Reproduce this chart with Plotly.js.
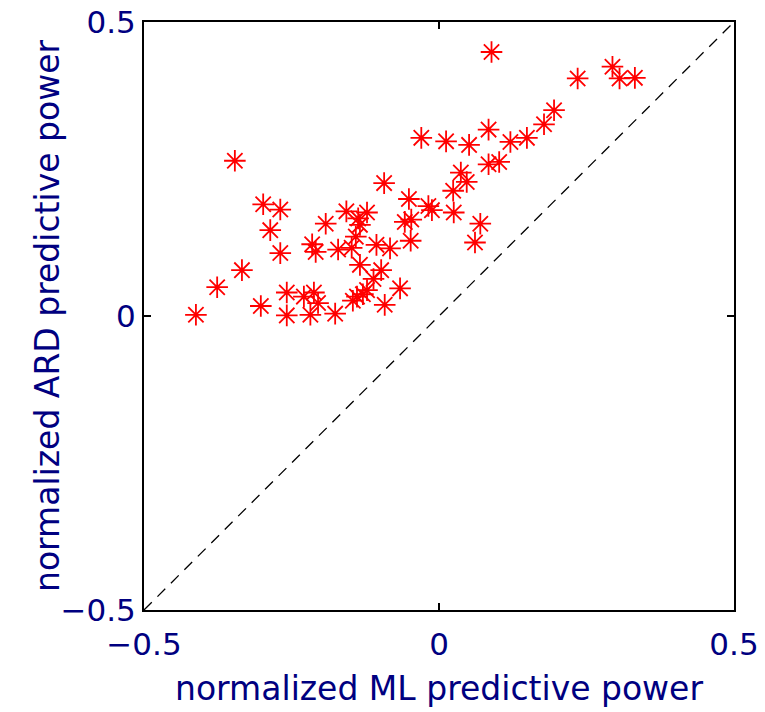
<!DOCTYPE html>
<html>
<head>
<meta charset="utf-8">
<script src="https://cdn.plot.ly/plotly-3.0.1.min.js"></script>
<style>html,body{margin:0;padding:0;background:#fff;}</style>
</head>
<body>
<div id="chart" style="width:765px;height:712px;"></div>
<script>
// normalized ML predictive power (x) for each dataset
var mlPower = [-0.346,-0.298,-0.269,-0.286,-0.269,-0.334,-0.376,-0.412,-0.302,-0.258,
  -0.258,-0.229,-0.212,-0.205,-0.218,-0.176,-0.215,-0.209,-0.192,-0.171,
  -0.157,-0.137,-0.122,-0.134,-0.141,-0.148,-0.134,-0.106,-0.083,-0.098,
  -0.111,-0.122,-0.139,-0.146,-0.129,-0.092,-0.066,-0.048,-0.058,-0.047,
  -0.051,-0.018,-0.012,-0.093,-0.030,0.012,0.051,0.084,0.089,0.121,
  0.149,0.178,0.195,0.235,0.294,0.306,0.332,0.084,0.102,0.037,
  0.047,0.024,0.025,0.070,0.061];
// normalized ARD predictive power (y) for each dataset
var ardPower = [0.264,0.190,0.181,0.146,0.107,0.078,0.049,0.002,0.017,0.040,
  0.001,0.033,0.040,0.022,0.002,0.004,0.122,0.109,0.157,0.113,
  0.178,0.166,0.176,0.155,0.135,0.116,0.087,0.121,0.115,0.078,
  0.063,0.044,0.033,0.026,0.037,0.019,0.047,0.128,0.160,0.164,
  0.199,0.187,0.180,0.226,0.303,0.297,0.291,0.317,0.449,0.296,
  0.303,0.326,0.350,0.404,0.424,0.404,0.405,0.258,0.262,0.244,
  0.228,0.213,0.176,0.157,0.125];
// identity line end points
var diagLine = [-0.5, 0.5];
var tickValues = [-0.5, 0, 0.5];
var xLabel = "normalized ML predictive power";
var yLabel = "normalized ARD predictive power";

var textColor = "#000080";
var fontFam = "DejaVu Sans, sans-serif";

var traces = [
  {
    x: diagLine, y: diagLine, mode: "lines", type: "scatter",
    line: {color: "black", width: 1.3, dash: "11px,8px"},
    hoverinfo: "skip", showlegend: false
  },
  {
    x: mlPower, y: ardPower, mode: "markers", type: "scatter",
    marker: {symbol: "asterisk-open", size: 18, color: "red", line: {color: "red", width: 1.8}},
    showlegend: false
  }
];

function axis() {
  return {
    range: [-0.5, 0.5],
    tickvals: tickValues,
    ticks: "inside",
    ticklen: 7,
    tickwidth: 1.3,
    tickcolor: "black",
    showline: true,
    linecolor: "black",
    linewidth: 2,
    mirror: "allticks",
    showgrid: false,
    zeroline: false,
    tickfont: {family: fontFam, size: 31, color: textColor},
    automargin: false
  };
}

var xa = axis();
xa.ticklabelstandoff = 6;
xa.title = {text: xLabel, font: {family: fontFam, size: 33, color: textColor}, standoff: 16};
var ya = axis();

var layout = {
  width: 765, height: 712,
  margin: {l: 144, r: 31, t: 22, b: 102},
  paper_bgcolor: "white", plot_bgcolor: "white",
  xaxis: xa, yaxis: ya,
  showlegend: false,
  annotations: [{
    text: yLabel, xref: "paper", yref: "paper", x: 0, y: 0.5,
    xanchor: "center", yanchor: "middle", xshift: -97, textangle: -90,
    showarrow: false, font: {family: fontFam, size: 33, color: textColor}
  }]
};

Plotly.newPlot("chart", traces, layout, {displayModeBar: false, staticPlot: true});
</script>
</body>
</html>
